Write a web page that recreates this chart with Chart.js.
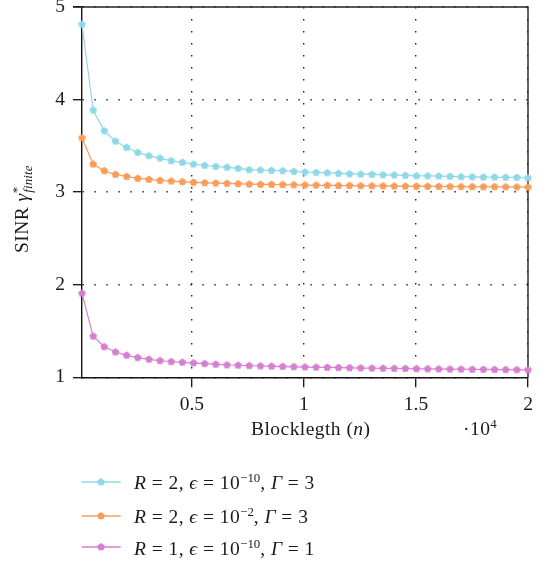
<!DOCTYPE html>
<html>
<head>
<meta charset="utf-8">
<script src="https://cdn.jsdelivr.net/npm/chart.js@4.4.0/dist/chart.umd.min.js"></script>
<style>
  html, body { margin: 0; padding: 0; background: #fff; }
  #wrap { position: relative; width: 546px; height: 562px; overflow: hidden; }
  #c { position: absolute; left: 0; top: 0; }
  .txt { position: absolute; font-family: "Liberation Serif", "DejaVu Serif", serif; font-size: 19.5px; line-height: 19px; letter-spacing: 0.45px; color: #1a1a1a; white-space: nowrap; }
  .txt sup { font-size: 0.66em; line-height: 0; vertical-align: 0.58em; letter-spacing: 0; }
  .txt sub { font-size: 0.66em; line-height: 0; vertical-align: -0.3em; letter-spacing: 0.2px; }
  #ytitle { left: 12px; top: 253px; transform-origin: 0 0; transform: rotate(-90deg); }
  .leg { position: absolute; left: 81px; }
</style>
</head>
<body>
<div id="wrap">
  <canvas id="c" width="546" height="562"></canvas>
  <div class="txt" id="ytitle">SINR <i>γ</i><sup>*</sup><sub style="margin-left:-6px"><i>finite</i></sub></div>
  <div class="txt" id="xtitle" style="left:251px; top:419px;">Blocklegth (<i>n</i>)</div>
  <div class="txt" id="xscale" style="left:463px; top:419px;">·10<sup>4</sup></div>
  <div id="legend"></div>
</div>
<script>
// ---- data ----
const blocklengths = [100, 597.5, 1095, 1592.5, 2090, 2587.5, 3085, 3582.5, 4080, 4577.5,
  5075, 5572.5, 6070, 6567.5, 7065, 7562.5, 8060, 8557.5, 9055, 9552.5,
  10050, 10547.5, 11045, 11542.5, 12040, 12537.5, 13035, 13532.5, 14030, 14527.5,
  15025, 15522.5, 16020, 16517.5, 17015, 17512.5, 18010, 18507.5, 19005, 19502.5, 20000];

const sinrR2eps10G3 = [4.813, 3.885, 3.662, 3.550, 3.482, 3.428, 3.392, 3.367, 3.338, 3.321,
  3.302, 3.288, 3.277, 3.267, 3.256, 3.241, 3.238, 3.234, 3.230, 3.223,
  3.216, 3.212, 3.208, 3.202, 3.197, 3.194, 3.191, 3.187, 3.184, 3.180,
  3.176, 3.175, 3.173, 3.170, 3.166, 3.165, 3.162, 3.161, 3.159, 3.158, 3.154];

const sinrR2eps2G3 = [3.586, 3.302, 3.230, 3.191, 3.169, 3.148, 3.137, 3.126, 3.119, 3.111,
  3.105, 3.100, 3.097, 3.094, 3.090, 3.086, 3.083, 3.082, 3.080, 3.078,
  3.076, 3.074, 3.073, 3.071, 3.070, 3.068, 3.067, 3.066, 3.065, 3.064,
  3.063, 3.062, 3.061, 3.060, 3.059, 3.058, 3.057, 3.057, 3.056, 3.055, 3.054];

const sinrR1eps10G1 = [1.907, 1.443, 1.330, 1.273, 1.237, 1.212, 1.194, 1.179, 1.168, 1.162,
  1.154, 1.147, 1.140, 1.133, 1.130, 1.125, 1.122, 1.119, 1.116, 1.113,
  1.110, 1.108, 1.106, 1.104, 1.102, 1.100, 1.098, 1.097, 1.095, 1.094,
  1.092, 1.091, 1.089, 1.088, 1.087, 1.085, 1.084, 1.083, 1.082, 1.081, 1.080];

const xTickValues = [5000, 10000, 15000, 20000];
const yTickValues = [1, 2, 3, 4, 5];

const seriesLabels = [
  '<i>R</i> = 2, <i>ϵ</i> = 10<sup>−10</sup>, <i>Γ</i> = 3',
  '<i>R</i> = 2, <i>ϵ</i> = 10<sup>−2</sup>, <i>Γ</i> = 3',
  '<i>R</i> = 1, <i>ϵ</i> = 10<sup>−10</sup>, <i>Γ</i> = 1'
];
const seriesColors = ['#8fd8e8', '#f99c5a', '#d67fd0'];
const seriesValues = [sinrR2eps10G3, sinrR2eps2G3, sinrR1eps10G1];

// ---- helpers ----
function pentagonCanvas(color, r) {
  const s = Math.ceil(2 * r + 2);
  const c = document.createElement('canvas');
  c.width = s; c.height = s;
  const g = c.getContext('2d');
  g.fillStyle = color;
  g.beginPath();
  for (let k = 0; k < 5; k++) {
    const a = -Math.PI / 2 + k * 2 * Math.PI / 5;
    const px = s / 2 + r * Math.cos(a), py = s / 2 + r * Math.sin(a);
    if (k === 0) g.moveTo(px, py); else g.lineTo(px, py);
  }
  g.closePath();
  g.fill();
  return c;
}

const font = { family: '"Liberation Serif", "DejaVu Serif", serif', size: 19.5 };

const datasets = seriesValues.map((vals, i) => ({
  label: 'series' + i,
  data: blocklengths.map((n, j) => ({ x: n, y: vals[j] })),
  borderColor: seriesColors[i],
  backgroundColor: seriesColors[i],
  borderWidth: 1.2,
  pointStyle: pentagonCanvas(seriesColors[i], 4.1),
  pointRadius: 4,
  pointHoverRadius: 4,
  tension: 0,
  clip: false
}));

const framePlugin = {
  id: 'frame',
  beforeDatasetsDraw(chart) {
    const { ctx, chartArea: a } = chart;
    ctx.save();
    ctx.strokeStyle = '#222';
    ctx.lineWidth = 1.4;
    ctx.beginPath();
    ctx.moveTo(a.left - 9, a.top);
    ctx.lineTo(a.right, a.top);
    ctx.lineTo(a.right, a.bottom);
    ctx.stroke();
    ctx.restore();
  }
};

const gridCommon = { color: '#222', lineWidth: 1.4, drawTicks: true, tickColor: '#111', tickWidth: 1.3, tickBorderDash: [] };
const borderCommon = { display: true, color: '#111', width: 1.4, dash: [1.4, 10.6], dashOffset: 0 };

new Chart(document.getElementById('c'), {
  type: 'line',
  data: { datasets },
  plugins: [framePlugin],
  options: {
    responsive: false,
    animation: false,
    devicePixelRatio: 1,
    events: [],
    layout: { padding: { left: 0, right: 18, top: 7, bottom: 145 } },
    plugins: { legend: { display: false }, tooltip: { enabled: false } },
    scales: {
      x: {
        type: 'linear',
        min: 100,
        max: 20000,
        afterBuildTicks: s => { s.ticks = xTickValues.map(v => ({ value: v })); },
        afterFit: s => { s.height = 39.7; s.paddingLeft = 0; s.paddingRight = 0; },
        ticks: {
          autoSkip: false, maxRotation: 0, padding: 6, color: '#1a1a1a', font,
          callback: v => String(v / 10000)
        },
        grid: Object.assign({ tickLength: 10 }, gridCommon),
        border: borderCommon
      },
      y: {
        type: 'linear',
        min: 1,
        max: 5,
        afterBuildTicks: s => { s.ticks = yTickValues.map(v => ({ value: v })); },
        afterFit: s => { s.width = 82; s.paddingTop = 0; s.paddingBottom = 0; },
        ticks: { padding: 8, color: '#1a1a1a', font, callback: v => String(v) },
        grid: Object.assign({ tickLength: 9 }, gridCommon),
        border: borderCommon
      }
    }
  }
});

// ---- legend (HTML) ----
const legendTops = [473, 507, 539];
const legendCenters = [481.7, 516, 547.3];
const legendEl = document.getElementById('legend');
seriesLabels.forEach((lab, i) => {
  const svgNS = 'http://www.w3.org/2000/svg';
  const svg = document.createElementNS(svgNS, 'svg');
  svg.setAttribute('width', '41');
  svg.setAttribute('height', '12');
  svg.setAttribute('class', 'leg');
  svg.style.top = (legendCenters[i] - 6) + 'px';
  const line = document.createElementNS(svgNS, 'line');
  line.setAttribute('x1', '0.7'); line.setAttribute('x2', '39.7');
  line.setAttribute('y1', '6'); line.setAttribute('y2', '6');
  line.setAttribute('stroke', seriesColors[i]); line.setAttribute('stroke-width', '1.3');
  svg.appendChild(line);
  const poly = document.createElementNS(svgNS, 'polygon');
  const pts = [];
  for (let k = 0; k < 5; k++) {
    const a = -Math.PI / 2 + k * 2 * Math.PI / 5;
    pts.push((20 + 4.1 * Math.cos(a)).toFixed(2) + ',' + (6 + 4.1 * Math.sin(a)).toFixed(2));
  }
  poly.setAttribute('points', pts.join(' '));
  poly.setAttribute('fill', seriesColors[i]);
  svg.appendChild(poly);
  legendEl.appendChild(svg);
  const t = document.createElement('div');
  t.className = 'txt';
  t.style.left = '134px';
  t.style.top = legendTops[i] + 'px';
  t.innerHTML = lab;
  legendEl.appendChild(t);
});
</script>
</body>
</html>
